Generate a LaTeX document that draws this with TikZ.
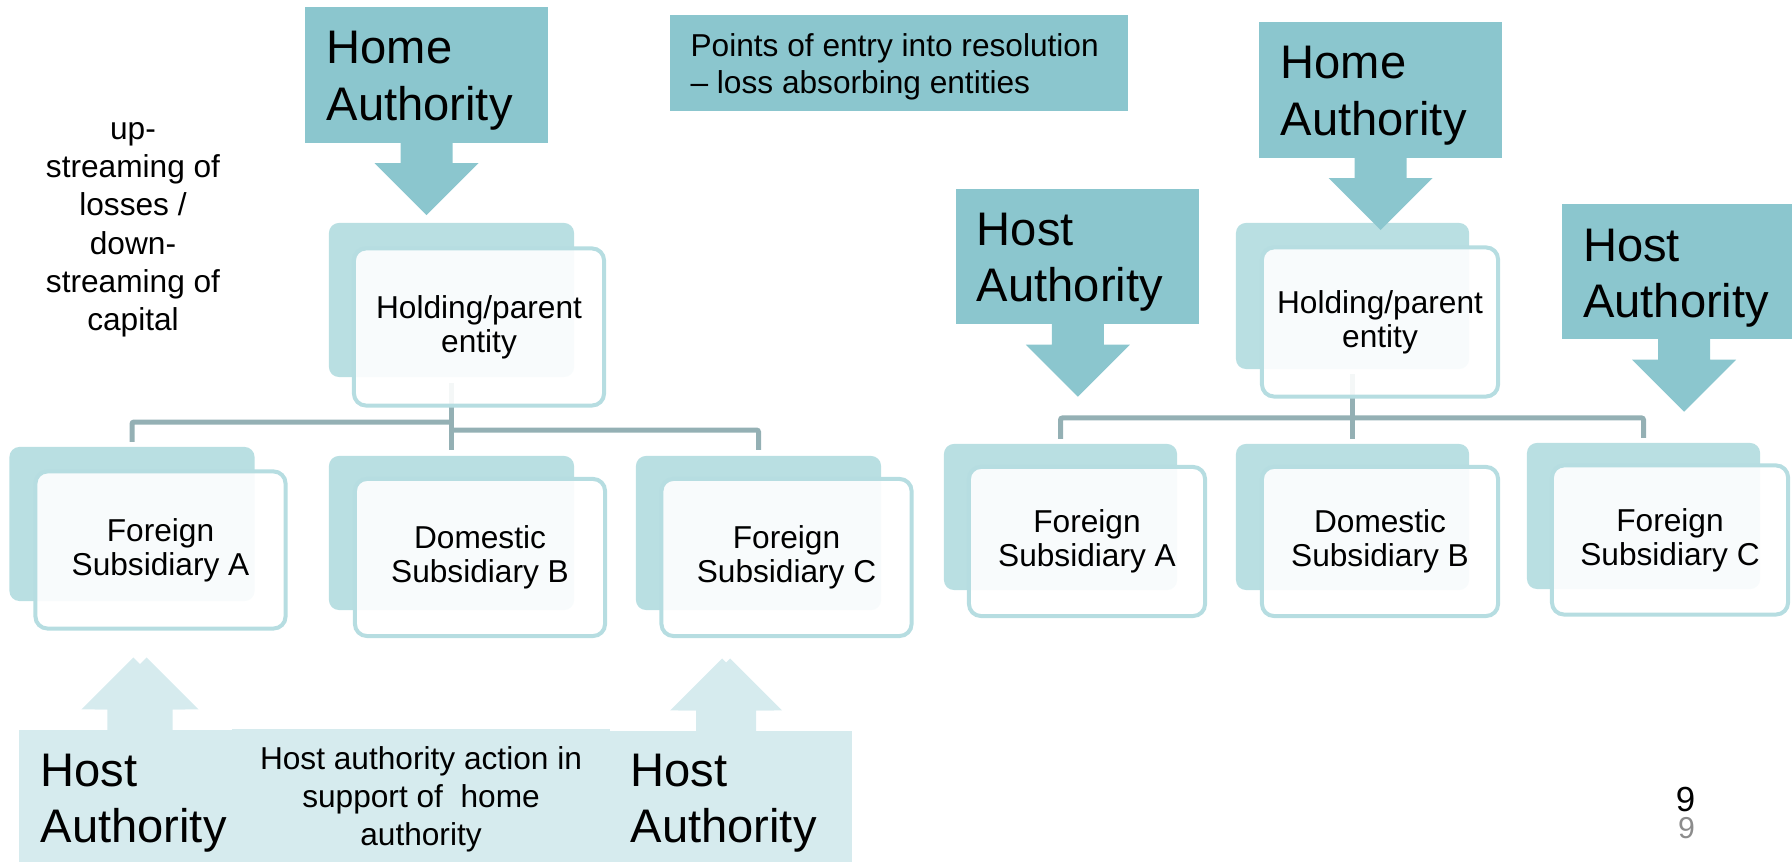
\documentclass[tikz,border=0pt]{standalone}
\usepackage{fontspec}
\setmainfont{Liberation Sans}
\usetikzlibrary{calc}
\pgfdeclarelayer{background}
\pgfsetlayers{background,main}
\definecolor{authteal}{RGB}{139,198,206}
\definecolor{backteal}{RGB}{185,223,226}
\definecolor{edgeteal}{RGB}{182,221,225}
\definecolor{linkgray}{RGB}{148,176,180}
\definecolor{hostpale}{RGB}{214,235,238}
\definecolor{pagegray}{RGB}{140,140,140}
\tikzset{
  auth/.style={fill=authteal, inner sep=0, outer sep=0, minimum width=2.43cm, minimum height=1.35cm},
  hostbox/.style={fill=hostpale, inner sep=0, outer sep=0},
  bigtxt/.style={anchor=north west, inner sep=0, align=left, font=\fontsize{13.4}{16.1}\selectfont},
  smalltxt/.style={align=center, font=\fontsize{9}{10.8}\selectfont},
  backbox/.style={fill=backteal, rounded corners=0.1cm, inner sep=0, outer sep=0},
  backL/.style={backbox, minimum width=2.45cm, minimum height=1.54cm},
  backR/.style={backbox, minimum width=2.33cm, minimum height=1.46cm},
  frontbox/.style={draw=edgeteal, line width=0.04cm, fill=white, fill opacity=0.9, text opacity=1,
    rounded corners=0.12cm, inner sep=0, outer sep=0, align=center, font=\fontsize{9}{9.6}\selectfont},
  frontL/.style={frontbox, minimum width=2.50cm, minimum height=1.57cm},
  frontR/.style={frontbox, minimum width=2.36cm, minimum height=1.49cm},
  link/.style={draw=linkgray, line width=0.05cm, rounded corners=0.02cm},
  dnarrow/.pic={\fill[pic actions] (-26,-1) -- (-26,20.5) -- (-52,20.5) -- (0,72.5) -- (52,20.5) -- (26,20.5) -- (26,-1) -- cycle;}
}
\begin{document}
\begin{tikzpicture}[x=0.01cm, y=-0.01cm]
  \useasboundingbox (0,0) rectangle (1792,862);
  % left: group seen from home authority
  \node[auth] (homeL) at (426.5,75) {};
  \node[bigtxt] (homeLtxt) at ([shift={(21,23)}]homeL.north west) {Home\\Authority};
  \node[smalltxt, anchor=north, inner sep=0, font=\fontsize{9}{10.9}\selectfont] (flowtxt) at (133,121.6)
    {up-\\streaming of\\losses /\\down-\\streaming of\\capital};
  \node[backL] (backHoldL) at (451.5,300) {};
  \node[frontL] (holdL) at (479,327) {Holding/parent\\entity};
  \node[backL] (backAL) at (132,524) {};
  \node[frontL] (subAL) at (160.5,550) {Foreign\\Subsidiary A};
  \node[backL] (backBL) at (451.5,533) {};
  \node[frontL] (subBL) at (480,557.5) {Domestic\\Subsidiary B};
  \node[backL] (backCL) at (758.5,533) {};
  \node[frontL] (subCL) at (786.5,557.5) {Foreign\\Subsidiary C};
  \pic[fill=authteal] at (homeL.south) {dnarrow};
  % host authorities below
  \pic[fill=hostpale, yscale=-1] at (133.3,730) {dnarrow};
  \pic[fill=hostpale, yscale=-1] at (146.7,730) {dnarrow};
  \pic[fill=hostpale, yscale=-1] at (722.2,731) {dnarrow};
  \pic[fill=hostpale, yscale=-1] at (730.2,731) {dnarrow};
  \node[hostbox, minimum width=2.13cm, minimum height=1.46cm] (hostBL) at (125.5,803) {};
  \node[hostbox, minimum width=3.78cm, minimum height=1.41cm, smalltxt] (hostBM) at (421,799.5)
    {Host authority action in\\support of~ home\\authority};
  \node[hostbox, minimum width=2.42cm, minimum height=1.45cm] (hostBR) at (731,803.5) {};
  \node[bigtxt] (hostBLtxt) at ([shift={(21,23)}]hostBL.north west) {Host\\Authority};
  \node[bigtxt] (hostBRtxt) at ([shift={(20,22)}]hostBR.north west) {Host\\Authority};
  % legend
  \node[auth, minimum width=4.58cm, minimum height=0.96cm] (entrybox) at (899,63) {};
  \node[anchor=north west, inner sep=0, align=left, font=\fontsize{9}{10.4}\selectfont] (entrytxt)
    at ([shift={(20,18.3)}]entrybox.north west) {Points of entry into resolution\\– loss absorbing entities};
  % right: points of entry
  \node[auth] (homeR) at (1380.5,90) {};
  \node[bigtxt] (homeRtxt) at ([shift={(21,23)}]homeR.north west) {Home\\Authority};
  \node[auth] (hostAR) at (1077.8,256.7) {};
  \node[bigtxt] (hostARtxt) at ([shift={(20,23)}]hostAR.north west) {Host\\Authority};
  \node[auth] (hostCR) at (1684,271.7) {};
  \node[bigtxt] (hostCRtxt) at ([shift={(20,24)}]hostCR.north west) {Host\\Authority};
  \node[backR] (backHoldR) at (1352.5,296) {};
  \node[frontR] (holdR) at (1380,322) {Holding/parent\\entity};
  \node[backR] (backAR) at (1060.5,517) {};
  \node[frontR] (subAR) at (1087,541.5) {Foreign\\Subsidiary A};
  \node[backR] (backBR) at (1352.5,517) {};
  \node[frontR] (subBR) at (1380,541.5) {Domestic\\Subsidiary B};
  \node[backR] (backCR) at (1643.5,516) {};
  \node[frontR] (subCR) at (1670,540) {Foreign\\Subsidiary C};
  \pic[fill=authteal] at (homeR.south) {dnarrow};
  \pic[fill=authteal] at (hostAR.south) {dnarrow};
  \pic[fill=authteal] at (hostCR.south) {dnarrow};
  % page number
  \node[anchor=base, inner sep=0, font=\fontsize{9.9}{12}\selectfont] (pagenum) at (1685.5,811.7) {9};
  \node[anchor=base, inner sep=0, text=pagegray, font=\fontsize{8.6}{10}\selectfont] (pagenumb) at (1686.5,838) {9};
  \begin{pgfonlayer}{background}
    \draw[link] ($(backHoldL.south)+(0,6)$) -- ($(backBL.north)+(0,-6)$);
    \draw[link] ($(backHoldL.south)+(0,45)$) -| ($(backAL.north)+(0,-5)$);
    \draw[link] ($(backHoldL.south)+(0,53)$) -| ($(backCL.north)+(0,-6)$);
    \draw[link] ($(backHoldR.south)+(0,5)$) -- ($(backBR.north)+(0,-5)$);
    \draw[link] ($(backAR.north)+(0,-5)$) |- ($(backCR.north)+(0,-25)$) -- ($(backCR.north)+(0,-5)$);
  \end{pgfonlayer}
\end{tikzpicture}
\end{document}
